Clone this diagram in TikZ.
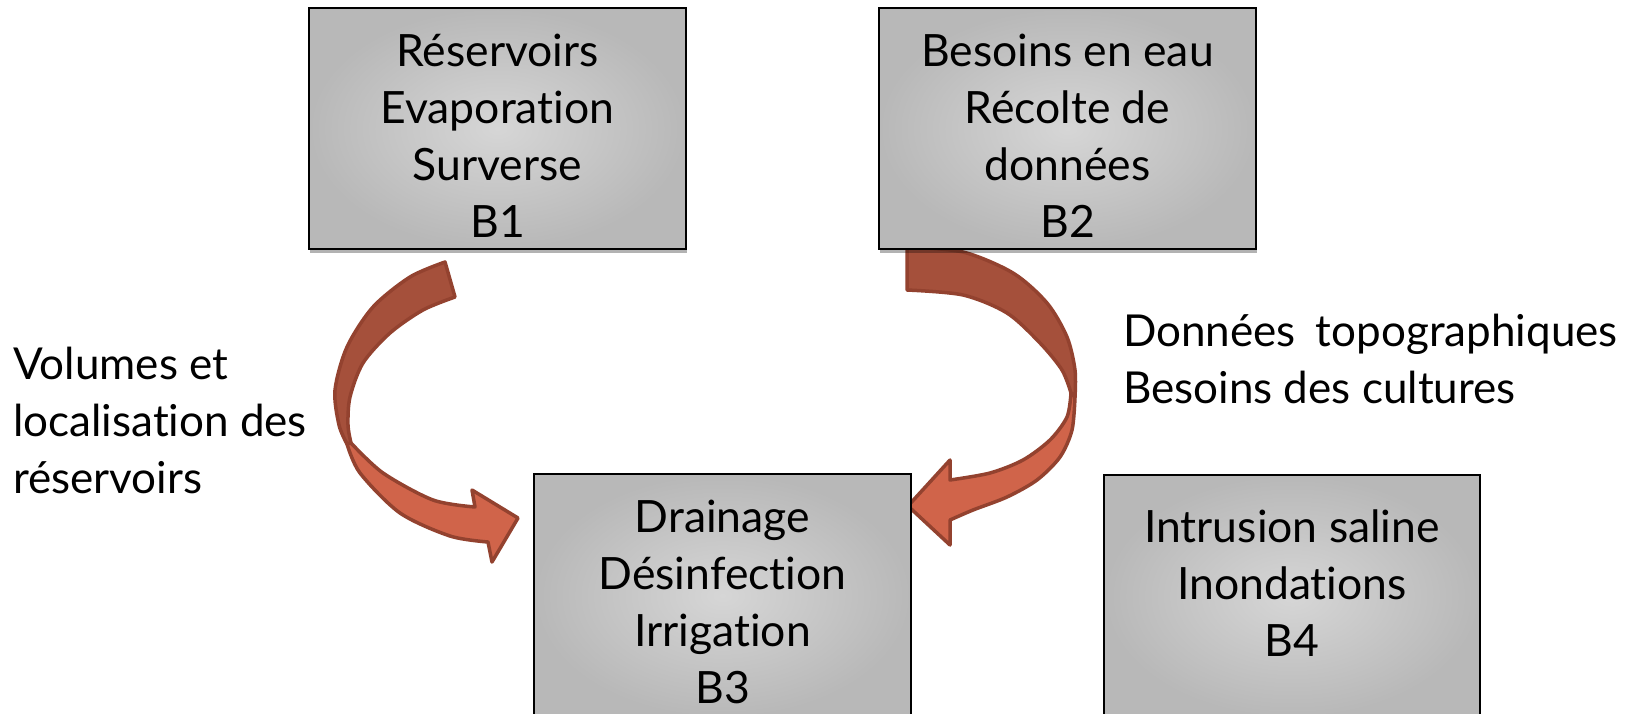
\documentclass[tikz,border=0pt]{standalone}
\usepackage{fontspec}
\setmainfont{Lato}[Ligatures={NoCommon}]
\usetikzlibrary{shadows}
\definecolor{arrdark}{HTML}{A5503B}
\definecolor{arrlight}{HTML}{D0644A}
\definecolor{arrline}{HTML}{93422F}
\definecolor{boxin}{HTML}{D6D6D6}
\definecolor{boxout}{HTML}{B8B8B8}
\newcommand{\topgap}{\rule{0pt}{46pt}}
\newcommand{\botgap}{\rule[-26pt]{0pt}{0pt}}
\begin{document}
\begin{tikzpicture}[x=1pt,y=-1pt,
  box/.style={draw=black, line width=2pt, inner color=boxin, outer color=boxout,
    align=center, font=\fontsize{44.5}{57}\selectfont, inner sep=0pt,
    minimum width=377pt, minimum height=241pt, anchor=north west,
    drop shadow={shadow xshift=1pt, shadow yshift=-4pt, opacity=0.3, fill=black}},
  sidetext/.style={align=left, font=\fontsize{44}{57}\selectfont, inner sep=0pt, anchor=north west},
  darkpart/.style={fill=arrdark, draw=arrline, line width=3.5pt, line join=round},
  lightpart/.style={fill=arrlight, draw=arrline, line width=3.5pt, line join=round}]
\fill[white] (0,0) rectangle (1645,714);
\useasboundingbox (0,0) rectangle (1645,714);
% left curved arrow (B1 -> B3)
\path[darkpart] plot[smooth] coordinates {(445,262) (410,277) (373,307) (347,347) (335,390) (339,425) (347,444)}
  -- plot[smooth] coordinates {(351,443) (348,425) (350,397) (363,363) (390,333) (423,310) (455,297)} -- cycle;
\path[lightpart] plot[smooth] coordinates {(347,444) (360,473) (400,513) (450,536) (488,542)}
  -- (492,562) -- (518,518) -- (472,490)
  -- plot[smooth] coordinates {(475,507) (433,500) (383,473) (351,443)} -- cycle;
% right curved arrow (B2 -> B3)
\path[darkpart] plot[smooth] coordinates {(907,247) (963,252) (1013,273) (1047,303) (1067,337) (1075,370) (1075,397)}
  -- plot[smooth] coordinates {(1071,393) (1062,370) (1040,343) (1007,313) (963,295) (907,290)} -- cycle;
\path[lightpart] plot[smooth] coordinates {(1075,397) (1072,430) (1060,457) (1037,480) (1007,497) (973,510) (950,520)}
  -- (950,545) -- (908,506) -- (950,460)
  -- plot[smooth] coordinates {(950,480) (990,473) (1023,460) (1050,440) (1067,417) (1071,393)} -- cycle;
% boxes
\node[box] (b1) at (308,7) {\topgap Réservoirs\\Evaporation\\Surverse\\B1};
\node[box] (b2) at (878,7) {\topgap Besoins en eau\\Récolte de\\données\\B2};
\node[box, minimum height=243pt] (b3) at (533,473) {\topgap Drainage\\Désinfection\\Irrigation\\B3};
\node[box, minimum width=376pt, minimum height=242pt] (b4) at (1103,474) {Intrusion saline\\Inondations\\B4\botgap};
% side labels
\node[sidetext] (l1) at (13,347) {Volumes et\\localisation des\\réservoirs};
\node[sidetext] (l2) at (1123,314) {Données\hspace{0.2em} topographiques\\Besoins des cultures};
\end{tikzpicture}
\end{document}
